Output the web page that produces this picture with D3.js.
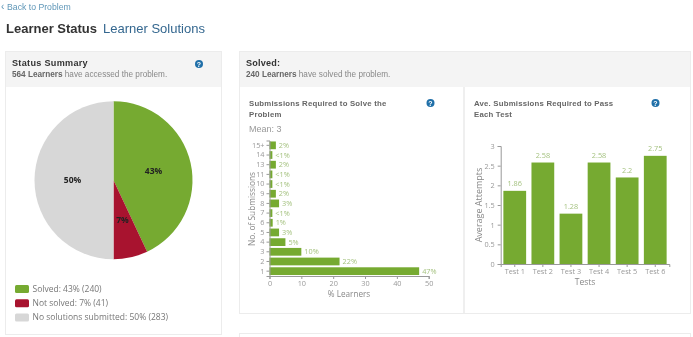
<!DOCTYPE html>
<html><head><meta charset="utf-8">
<script src="https://cdn.jsdelivr.net/npm/d3@7"></script>
<style>html,body{margin:0;padding:0;background:#fff;overflow:hidden}svg{display:block;filter:blur(0.35px)}</style>
</head><body><svg id="c" width="693" height="337"></svg>
<script>
const statusNames=["Solved","Not solved","No solutions submitted"];
const statusPct=[43,7,50];
const statusCount=[240,41,283];
const statusColors=["#76aa31","#a8132f","#d7d7d7"];
const subCats=["15+","14","13","11","10","9","8","7","6","5","4","3","2","1"];
const subValues=[2,0.9,2,0.9,0.9,2,3,0.9,1,3,5,10,22,47];
const subLabels=["2%","<1%","2%","<1%","<1%","2%","3%","<1%","1%","3%","5%","10%","22%","47%"];
const subTicks=[0,10,20,30,40,50];
const testCats=["Test 1","Test 2","Test 3","Test 4","Test 5","Test 6"];
const testValues=[1.86,2.58,1.28,2.58,2.2,2.75];
const testTicks=[0,0.5,1,1.5,2,2.5,3];

const sans="'Liberation Sans',Arial,sans-serif", open="'Open Sans',sans-serif";
const svg=d3.select("#c");
const T=(x,y,s,o={})=>svg.append("text").attr("x",x).attr("y",y).text(s)
  .attr("font-family",o.f||sans).attr("font-size",o.z||10).attr("fill",o.c||"#555")
  .attr("font-weight",o.w||"normal").attr("text-anchor",o.a||"start")
  .attr("letter-spacing",o.s||0).attr("transform",o.r||null);
const R=(x,y,w,h,f,s)=>svg.append("rect").attr("x",x).attr("y",y).attr("width",w).attr("height",h).attr("fill",f).attr("stroke",s||"none");

// page header
T(1,9.5,"‹",{z:10,c:"#5b93b5"});
T(7,9.5,"Back to Problem",{z:8.7,c:"#5f97b8"});
T(6,33,"Learner Status",{z:13,w:"bold",c:"#333"});
T(103,33,"Learner Solutions",{z:13,c:"#34678f"});

// panels
R(5.5,51.5,216,283,"#fff","#ececec"); R(6,52,215,35,"#f4f4f4");
R(239.5,51.5,451,262,"#fff","#ececec"); R(240,52,450,35,"#f4f4f4");
R(463,87,2,226,"#efefef");
R(239.5,333.5,451,10,"#fff","#ececec");

T(12,66,"Status Summary",{z:9.1,w:"bold",c:"#333",s:.3});
const s1=T(12,77,"",{z:8.2,c:"#888"});
s1.append("tspan").attr("font-weight","bold").attr("fill","#666").text("564 Learners");
s1.append("tspan").text(" have accessed the problem.");
T(246,66,"Solved:",{z:9.1,w:"bold",c:"#333",s:.2});
const s2=T(246,77,"",{z:8.2,c:"#888"});
s2.append("tspan").attr("font-weight","bold").attr("fill","#666").text("240 Learners");
s2.append("tspan").text(" have solved the problem.");

const help=(x,y)=>{svg.append("circle").attr("cx",x).attr("cy",y).attr("r",4).attr("fill","#1f6fa8");
  T(x,y+2.7,"?",{z:7,w:"bold",c:"#fff",a:"middle"});};
help(199,64);help(430.5,103);help(655.5,103);

// pie
const pieG=svg.append("g").attr("transform","translate(113.5,180.3)");
const arc=d3.arc().innerRadius(0).outerRadius(79);
const pie=d3.pie().sort(null)(statusPct);
pieG.selectAll("path").data(pie).join("path").attr("d",arc).attr("fill",(d,i)=>statusColors[i]);
const lblArc=d3.arc().innerRadius(41).outerRadius(41);
pieG.selectAll("text").data(pie).join("text").text(d=>d.data+"%")
  .attr("transform",d=>`translate(${lblArc.centroid(d)})`)
  .attr("text-anchor","middle").attr("dy","0.35em").attr("font-family",open).attr("font-size",8.5).attr("font-weight","bold").attr("fill","#222");

// legend
statusNames.forEach((n,i)=>{const y=289+i*14.2;
  R(15,y-4,14,8,statusColors[i]).attr("rx",1.5);
  T(32.5,y+3,`${n}: ${statusPct[i]}% (${statusCount[i]})`,{f:open,z:8.5,c:"#777"});});

// horizontal chart
T(249,105.5,"Submissions Required to Solve the",{z:7.8,w:"bold",c:"#666",s:.2});
T(249,117,"Problem",{z:7.8,w:"bold",c:"#666",s:.2});
T(249,132,"Mean: 3",{z:9,c:"#999"});
const hx=d3.scaleLinear().domain([0,50]).range([269.5,428.7]);
const hy=d3.scaleBand().domain(subCats).range([140.5,276]).paddingInner(.2).paddingOuter(.1);
const style=g=>{g.selectAll("path").attr("stroke","#999");g.selectAll("line").attr("stroke","#999");
  g.selectAll("text").attr("fill","#999").attr("font-family",open).attr("font-size",7.3);};
const h=svg.append("g");
h.selectAll("rect").data(subValues).join("rect").attr("x",hx(0)).attr("y",(d,i)=>hy(subCats[i]))
  .attr("width",d=>hx(d)-hx(0)).attr("height",hy.bandwidth()).attr("fill","#76aa31");
h.selectAll("text").data(subValues).join("text").attr("x",d=>hx(d)+3).attr("y",(d,i)=>hy(subCats[i])+hy.bandwidth()/2)
  .attr("dy","0.35em").text((d,i)=>subLabels[i]).attr("font-family",open).attr("font-size",7.3).attr("fill","#a5c280");
svg.append("g").attr("transform","translate(0,276)").call(d3.axisBottom(hx).tickValues(subTicks).tickSize(3).tickPadding(2)).call(style);
svg.append("g").attr("transform","translate(269.5,0)").call(d3.axisLeft(hy).tickSize(3).tickPadding(2)).call(style);
T(0,0,"No. of Submissions",{f:open,z:8.3,c:"#888",a:"middle",r:"translate(255,209) rotate(-90)"});
T(349,297,"% Learners",{f:open,z:8.2,c:"#888",a:"middle"});

// vertical chart
T(474,105.5,"Ave. Submissions Required to Pass",{z:7.8,w:"bold",c:"#666",s:.2});
T(474,117,"Each Test",{z:7.8,w:"bold",c:"#666",s:.2});
const vx=d3.scaleBand().domain(testCats).range([500.7,669.3]).paddingInner(.19).paddingOuter(.095);
const vy=d3.scaleLinear().domain([0,3]).range([264,146]);
const v=svg.append("g");
v.selectAll("rect").data(testValues).join("rect").attr("x",(d,i)=>vx(testCats[i])).attr("y",d=>vy(d))
  .attr("width",vx.bandwidth()).attr("height",d=>vy(0)-vy(d)).attr("fill","#76aa31");
v.selectAll("text").data(testValues).join("text").attr("x",(d,i)=>vx(testCats[i])+vx.bandwidth()/2).attr("y",d=>vy(d)-4.5)
  .attr("text-anchor","middle").text(d=>d).attr("font-family",open).attr("font-size",7.3).attr("fill","#a5c280");
svg.append("g").attr("transform","translate(0,264)").call(d3.axisBottom(vx).tickSize(3).tickPadding(2)).call(style);
svg.append("g").attr("transform","translate(500.7,0)").call(d3.axisLeft(vy).tickValues(testTicks).tickFormat(d=>d).tickSize(3).tickPadding(3)).call(style);
T(0,0,"Average Attempts",{f:open,z:9,c:"#888",a:"middle",r:"translate(482,205) rotate(-90)"});
T(585,285,"Tests",{f:open,z:8.5,c:"#888",a:"middle"});
</script></body></html>
